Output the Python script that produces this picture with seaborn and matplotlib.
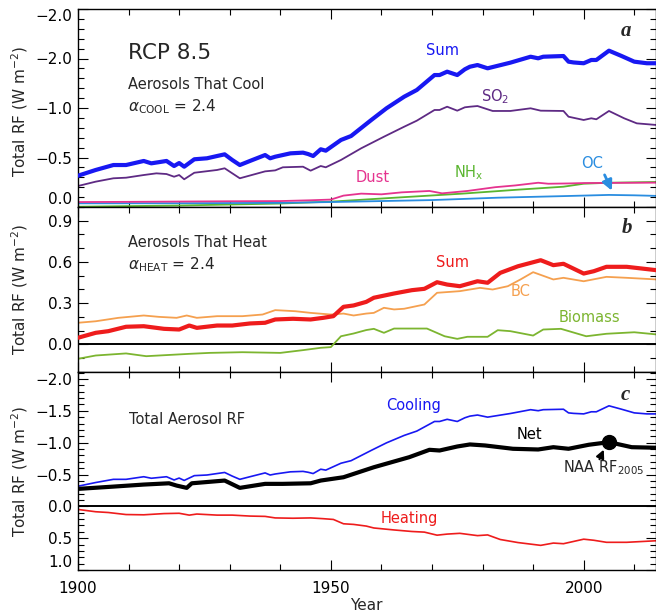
import matplotlib
matplotlib.use("Agg")
import matplotlib.pyplot as plt
import pandas as pd
import seaborn as sns
from matplotlib.ticker import MultipleLocator, FixedLocator

# ---------------- data (W m^-2, cooling terms negative) ----------------
# Panel a: aerosols that cool
yr_cool_sum = [1900, 1903.5, 1907, 1909.5, 1913, 1914.5, 1917.5, 1919, 1920, 1921, 1923, 1925.5,
               1927.5, 1929, 1930.5, 1932, 1934, 1937, 1938, 1939, 1942, 1944.5, 1945.5, 1946.5,
               1948, 1949, 1952, 1954, 1958, 1961, 1964.5, 1967, 1970.5, 1971.5, 1973, 1975,
               1976.5, 1977.5, 1979, 1981, 1985.5, 1989.5, 1991, 1992, 1996, 1997, 1998, 2000,
               2001.5, 2002.5, 2005, 2007.5, 2010, 2012.5, 2014.5]
rf_cool_sum = [-0.316, -0.374, -0.424, -0.424, -0.465, -0.441, -0.465, -0.414, -0.444, -0.407,
               -0.482, -0.492, -0.515, -0.532, -0.475, -0.424, -0.465, -0.525, -0.492, -0.508,
               -0.542, -0.549, -0.535, -0.515, -0.583, -0.569, -0.677, -0.717, -0.879, -0.997,
               -1.114, -1.182, -1.333, -1.333, -1.367, -1.333, -1.391, -1.417, -1.434, -1.401,
               -1.458, -1.518, -1.502, -1.518, -1.525, -1.468, -1.460, -1.452, -1.485, -1.485,
               -1.579, -1.525, -1.468, -1.452, -1.452]

yr_so2 = [1900, 1903.5, 1907, 1909.5, 1913, 1915.5, 1917.5, 1919, 1920, 1921, 1923, 1927.5, 1929,
          1932, 1937, 1939, 1940.5, 1944.5, 1946, 1948, 1949, 1952, 1956, 1960.5, 1964.5, 1967,
          1970.5, 1971.5, 1973, 1975, 1976.5, 1977.5, 1979, 1982, 1985.5, 1989.5, 1991.5, 1996,
          1997, 2000, 2001.5, 2002.5, 2005, 2008, 2010.5, 2014.5]
rf_so2 = [-0.212, -0.256, -0.290, -0.296, -0.323, -0.340, -0.333, -0.306, -0.323, -0.280, -0.346,
          -0.374, -0.391, -0.290, -0.360, -0.370, -0.401, -0.407, -0.367, -0.414, -0.401, -0.475,
          -0.593, -0.710, -0.811, -0.872, -0.980, -0.980, -1.013, -0.973, -1.007, -1.013, -1.020,
          -0.970, -0.970, -0.997, -0.973, -0.970, -0.912, -0.879, -0.896, -0.886, -0.970, -0.896,
          -0.845, -0.828]

yr_dust = [1900, 1910, 1920, 1930, 1940, 1946, 1950, 1952.5, 1956, 1960, 1964, 1969.5, 1972, 1977,
           1982.5, 1986.5, 1991, 1993, 1997, 2000, 2014.5]
rf_dust = [-0.050, -0.052, -0.055, -0.058, -0.060, -0.068, -0.075, -0.115, -0.135, -0.128, -0.148,
           -0.162, -0.138, -0.162, -0.200, -0.218, -0.245, -0.235, -0.238, -0.242, -0.246]

yr_nhx = [1900, 1920, 1940, 1950, 1963, 1976, 1987, 1996, 2000, 2005, 2014.5]
rf_nhx = [-0.003, -0.015, -0.035, -0.054, -0.095, -0.135, -0.175, -0.205, -0.235, -0.245, -0.253]

yr_oc = [1900, 1920, 1940, 1950, 1960, 1970, 1983, 1996, 2005, 2010, 2014.5]
rf_oc = [-0.037, -0.038, -0.042, -0.050, -0.060, -0.070, -0.094, -0.110, -0.122, -0.118, -0.112]

# Panel b: aerosols that heat
yr_heat_sum = [1900, 1903.5, 1906, 1909.5, 1913, 1917, 1920, 1922, 1923.5, 1927.5, 1930.5, 1934,
               1937, 1939, 1942.5, 1946, 1948.5, 1950.5, 1952.5, 1954.5, 1957, 1958.5, 1962.5,
               1966, 1968.5, 1971, 1973, 1975.5, 1979, 1981, 1983.5, 1987, 1991.5, 1994, 1996,
               2000, 2002, 2004.5, 2008.5, 2014.5]
rf_heat_sum = [0.049, 0.085, 0.097, 0.129, 0.133, 0.114, 0.109, 0.138, 0.121, 0.138, 0.138, 0.153,
               0.158, 0.182, 0.187, 0.182, 0.194, 0.206, 0.274, 0.284, 0.310, 0.340, 0.371, 0.395,
               0.405, 0.453, 0.436, 0.424, 0.460, 0.449, 0.521, 0.569, 0.613, 0.577, 0.587, 0.516,
               0.533, 0.565, 0.565, 0.540]

yr_bc = [1900, 1903.5, 1908, 1913, 1916, 1919.5, 1921.5, 1923.5, 1927.5, 1932.5, 1936.5, 1939, 1943,
         1946, 1950, 1952.5, 1954.5, 1957, 1958.5, 1960.5, 1962.5, 1964.5, 1968.5, 1971, 1975.5,
         1979.5, 1982, 1985, 1987.5, 1990, 1994, 1996, 2000, 2004.5, 2008.5, 2014.5]
rf_bc = [0.158, 0.169, 0.194, 0.211, 0.201, 0.194, 0.211, 0.194, 0.206, 0.206, 0.218, 0.250, 0.242,
         0.230, 0.218, 0.225, 0.211, 0.225, 0.230, 0.267, 0.255, 0.260, 0.291, 0.376, 0.388, 0.412,
         0.400, 0.424, 0.473, 0.526, 0.473, 0.485, 0.460, 0.492, 0.485, 0.473]

yr_bio = [1900, 1903.5, 1909.5, 1913.5, 1919.5, 1922, 1926, 1932.5, 1940, 1944.5, 1948, 1950, 1952,
          1954.5, 1957, 1958.5, 1960.5, 1962.5, 1969, 1972.5, 1975, 1977, 1981, 1983, 1985.5, 1990,
          1992, 1995.5, 2000.5, 2004.5, 2010, 2014.5]
rf_bio = [-0.104, -0.080, -0.065, -0.085, -0.073, -0.068, -0.061, -0.056, -0.061, -0.041, -0.024,
          -0.019, 0.060, 0.080, 0.105, 0.114, 0.085, 0.116, 0.116, 0.060, 0.041, 0.056, 0.056,
          0.104, 0.097, 0.065, 0.109, 0.114, 0.060, 0.078, 0.089, 0.073]

# Panel c: net aerosol forcing
yr_net = [1900, 1907, 1913, 1918, 1919.5, 1921.5, 1922.5, 1929, 1932, 1937, 1940.5, 1946, 1948,
          1952.5, 1958.5, 1965.5, 1969.5, 1971.5, 1975, 1977.5, 1980.5, 1986, 1991, 1994, 1997,
          2001, 2005, 2009.5, 2014.5]
rf_net = [-0.274, -0.310, -0.342, -0.362, -0.326, -0.290, -0.362, -0.405, -0.290, -0.353, -0.353,
          -0.362, -0.405, -0.457, -0.614, -0.772, -0.888, -0.877, -0.940, -0.972, -0.956, -0.904,
          -0.893, -0.929, -0.904, -0.967, -1.008, -0.929, -0.920]
naa_year = 2005

# ---------------- styling ----------------
sns.set_theme(style="ticks")
plt.rcParams["font.family"] = ["DejaVu Sans"]
plt.rcParams["mathtext.fontset"] = "dejavusans"

C_BLUE = "#1818f2"
C_PURPLE = "#5e2a84"
C_PINK = "#e5338f"
C_GREEN = "#5ab52f"
C_OC = "#2a8de0"
C_ORANGE = "#f5a04f"
C_RED = "#ee1c1c"
C_BIO = "#7cb530"

fig = plt.figure(figsize=(6.56, 6.12), dpi=100)
W, H = 656.0, 612.0
L, R = 78 / W, 655.5 / W


def box(top, bot):
    return [L, 1 - bot / H, R - L, (bot - top) / H]


ax_a = fig.add_axes(box(9, 207))
ax_b = fig.add_axes(box(207, 372))
ax_c = fig.add_axes(box(372, 570))


def draw(ax, years, vals, color, lw, z=2):
    df = pd.DataFrame({"year": years, "rf": vals})
    sns.lineplot(data=df, x="year", y="rf", ax=ax, color=color, linewidth=lw,
                 estimator=None, sort=False, legend=False, zorder=z)


# panel a
draw(ax_a, yr_nhx, rf_nhx, C_GREEN, 1.3)
draw(ax_a, yr_oc, rf_oc, C_OC, 1.3)
draw(ax_a, yr_dust, rf_dust, C_PINK, 1.3)
draw(ax_a, yr_so2, rf_so2, C_PURPLE, 1.3)
draw(ax_a, yr_cool_sum, rf_cool_sum, C_BLUE, 3.0, z=3)

# panel b
ax_b.axhline(0, color="black", lw=1.4, zorder=1)
draw(ax_b, yr_bio, rf_bio, C_BIO, 1.3)
draw(ax_b, yr_bc, rf_bc, C_ORANGE, 1.3)
draw(ax_b, yr_heat_sum, rf_heat_sum, C_RED, 3.0, z=3)

# panel c
ax_c.axhline(0, color="black", lw=1.4, zorder=1)
draw(ax_c, yr_cool_sum, rf_cool_sum, C_BLUE, 1.2)
draw(ax_c, yr_heat_sum, rf_heat_sum, C_RED, 1.2)
draw(ax_c, yr_net, rf_net, "black", 3.0, z=3)
naa_rf = rf_net[yr_net.index(naa_year)]
ax_c.plot([naa_year], [naa_rf], "o", color="black", ms=10, zorder=4)

# axes limits and ticks
ax_a.set_ylim(0.0, -2.0)
ax_b.set_ylim(-0.2, 1.0)
ax_c.set_ylim(1.0, -2.11)

ax_a.set_yticks([0.0, -0.5, -1.0, -1.5, -2.0],
                ["0.0", "\u22120.5", "\u22121.0", "\u22122.0", "\u22122.0"])
ax_b.set_yticks([0.0, 0.3, 0.6, 0.9], ["0.0", "0.3", "0.6", "0.9"])
ax_c.set_yticks([-2.0, -1.5, -1.0, -0.5, 0.0, 0.5, 1.0],
                ["\u22122.0", "\u22121.5", "\u22121.0", "\u22120.5", "0.0", "0.5", "1.0"])

for ax in (ax_a, ax_b, ax_c):
    ax.set_xlim(1900, 2014.2)
    ax.xaxis.set_major_locator(FixedLocator([1900, 1950, 2000]))
    ax.xaxis.set_minor_locator(MultipleLocator(10))
    ax.yaxis.set_minor_locator(MultipleLocator(0.1))
    ax.tick_params(which="both", direction="in", top=True, right=True, colors="black",
                   labelsize=11, width=0.8)
    ax.tick_params(which="major", length=7)
    ax.tick_params(which="minor", length=4)
    ax.tick_params(axis="y", pad=4)
    ax.set_xlabel("")
    ax.set_ylabel("")
    for s in ax.spines.values():
        s.set_color("black")
        s.set_linewidth(1.0)
    ax.set_facecolor("white")

ax_a.tick_params(axis="x", labelbottom=False)
ax_b.tick_params(axis="x", labelbottom=False)
ax_c.tick_params(axis="x", pad=8)
ax_c.set_xticklabels(["1900", "1950", "2000"])
ax_c.set_xlabel("Year", fontsize=11, labelpad=1)

# keep edge tick labels inside the frame
yl = ax_a.get_yticklabels()
yl[0].set_va("bottom")
yl[-1].set_va("top")
ax_c.get_yticklabels()[-1].set_va("bottom")

for yc in (112, 290, 472):
    fig.text(20 / W, 1 - yc / H, "Total RF (W m$^{-2}$)", rotation=90, ha="center",
             va="center", fontsize=11)

# annotations
tx = dict(fontsize=10.5, ha="center", va="center")
letter = dict(fontsize=15, fontweight="bold", fontstyle="italic",
              family=["Liberation Serif"], ha="center", va="center")

ax_a.text(1909.9, -1.556, "RCP 8.5", fontsize=15.5, ha="left", va="center")
ax_a.text(1909.9, -1.242, "Aerosols That Cool", fontsize=10.5, ha="left", va="center")
ax_a.text(1909.9, -1.01, r"$\alpha_{\mathrm{COOL}}$ = 2.4", fontsize=11, ha="left", va="center")
ax_a.text(1972.1, -1.576, "Sum", color=C_BLUE, **tx)
ax_a.text(1982.5, -1.111, r"SO$_2$", color=C_PURPLE, **tx)
ax_a.text(1958.2, -0.303, "Dust", color=C_PINK, **tx)
ax_a.text(1977.2, -0.343, r"NH$_\mathrm{x}$", color=C_GREEN, **tx)
ax_a.text(2001.7, -0.444, "OC", color=C_OC, **tx)
ax_a.annotate("", xy=(2005.8, -0.14), xytext=(2003.9, -0.35),
              arrowprops=dict(arrowstyle="-|>,head_length=0.5,head_width=0.25",
                              color=C_OC, lw=2))
ax_a.text(2008.4, -1.778, "a", **letter)

ax_b.text(1909.9, 0.742, "Aerosols That Heat", fontsize=10.5, ha="left", va="center")
ax_b.text(1909.9, 0.582, r"$\alpha_{\mathrm{HEAT}}$ = 2.4", fontsize=11, ha="left", va="center")
ax_b.text(1974.0, 0.596, "Sum", color=C_RED, **tx)
ax_b.text(1987.6, 0.385, "BC", color=C_ORANGE, **tx)
ax_b.text(2001.1, 0.196, "Biomass", color=C_BIO, **tx)
ax_b.text(2008.6, 0.844, "b", **letter)

ax_c.text(1910.1, -1.369, "Total Aerosol RF", fontsize=10.5, ha="left", va="center")
ax_c.text(1966.3, -1.59, "Cooling", color=C_BLUE, **tx)
ax_c.text(1989.2, -1.132, "Net", color="black", **tx)
ax_c.text(1965.5, 0.194, "Heating", color=C_RED, **tx)
ax_c.text(1995.9, -0.611, r"NAA RF$_{2005}$", fontsize=10.5, ha="left", va="center")
ax_c.annotate("", xy=(2004.2, -0.93), xytext=(2002.9, -0.70),
              arrowprops=dict(arrowstyle="-|>,head_length=0.4,head_width=0.2",
                              color="black", lw=1.5))
ax_c.text(2008.2, -1.748, "c", **letter)

fig.savefig("out.png", dpi=100, facecolor="white")
